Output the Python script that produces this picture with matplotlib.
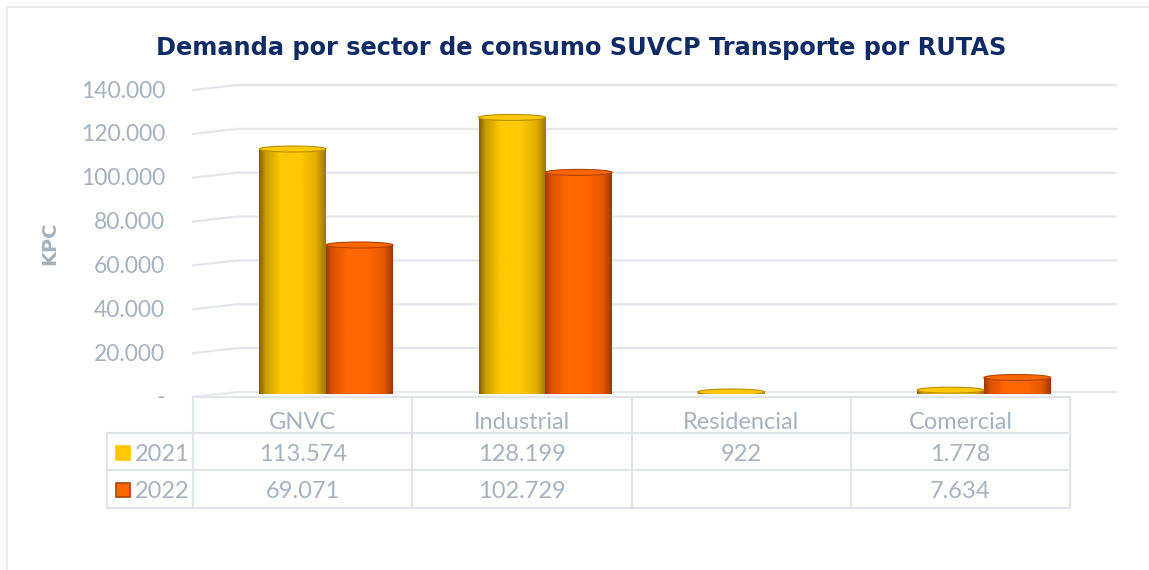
import numpy as np
import matplotlib
matplotlib.use("Agg")
import matplotlib.pyplot as plt
import matplotlib.transforms as mtransforms
from matplotlib.colors import LinearSegmentedColormap
from matplotlib.patches import Ellipse, Rectangle

# ---- data -------------------------------------------------------------
categories = ["GNVC", "Industrial", "Residencial", "Comercial"]
series_names = ["2021", "2022"]
demand_2021 = [113574, 128199, 922, 1778]
demand_2022 = [69071, 102729, np.nan, 7634]
y_ticks = [0, 20000, 40000, 60000, 80000, 100000, 120000, 140000]

title = "Demanda por sector de consumo SUVCP Transporte por RUTAS"
y_label = "KPC"

# ---- style ------------------------------------------------------------
W, H = 1149, 570
TEXT_GREY = "#a7b2bf"
GRID_GREY = "#e4e7eb"
TABLE_GREY = "#e1e5ea"
NAVY = "#0f2b66"
FONT = "Lato"
FS = 16.5

bar_colors = ["#ffc800", "#ff6600"]
bar_edges = ["#b88f00", "#b04300"]
cyl_maps = [
    LinearSegmentedColormap.from_list("cyl_yellow", [
        (0.0, "#7d6000"), (0.10, "#c99d00"), (0.32, "#ffc800"),
        (0.62, "#ffc800"), (0.86, "#e2ad00"), (1.0, "#9a7600")]),
    LinearSegmentedColormap.from_list("cyl_orange", [
        (0.0, "#9e3800"), (0.10, "#df5300"), (0.32, "#ff6600"),
        (0.62, "#ff6600"), (0.86, "#e85a00"), (1.0, "#9c3600")]),
]


def fmt(v):
    if v is None or np.isnan(v):
        return ""
    if v == 0:
        return "-"
    return f"{int(v):,}".replace(",", ".")


fig = plt.figure(figsize=(W / 100, H / 100), dpi=100)

# pixel-space overlay for title, frame and data table
bg = fig.add_axes([0, 0, 1, 1])
bg.set_xlim(0, W)
bg.set_ylim(H, 0)
bg.axis("off")

bg.plot([7, W], [7, 7], color="#e8e8e8", lw=1.2)
bg.plot([7, 7], [7, H], color="#e8e8e8", lw=1.2)

bg.text(581, 55, title, ha="center", va="baseline", fontsize=17.3,
        fontweight="bold", color=NAVY, family="DejaVu Sans")
bg.text(50, 243, y_label, ha="center", va="center", rotation=90,
        fontsize=14, fontweight="bold", color=TEXT_GREY, family="DejaVu Sans")

# table geometry (pixels); the bar area sits a little to the right (depth)
table_left, row_label_left = 193, 107
col_w = 219.25
depth_dx, depth_dy = 23.5, 5
base_y, top_y = 392, 85
bar_base_y, bar_full_h = 394, 302
row_edges = [397, 433, 470, 508]

n = len(categories)
table_right = table_left + n * col_w
# horizontal rules
bg.plot([table_left, table_right], [row_edges[0]] * 2, color=TABLE_GREY, lw=1.6)
for yy in row_edges[1:]:
    bg.plot([row_label_left, table_right], [yy, yy], color=TABLE_GREY, lw=1.6)
# vertical rules
bg.plot([row_label_left] * 2, [row_edges[1], row_edges[3]], color=TABLE_GREY, lw=1.6)
for i in range(n + 1):
    xx = table_left + i * col_w
    bg.plot([xx, xx], [row_edges[0], row_edges[3]], color=TABLE_GREY, lw=1.6)

for i, cat in enumerate(categories):
    cx = table_left + (i + 0.5) * col_w
    bg.text(cx, 429, cat, ha="center", va="baseline", fontsize=17,
            color=TEXT_GREY, family=FONT)
    bg.text(cx, 461, fmt(demand_2021[i]), ha="center", va="baseline",
            fontsize=17, color=TEXT_GREY, family=FONT)
    bg.text(cx, 498, fmt(demand_2022[i]), ha="center", va="baseline",
            fontsize=17, color=TEXT_GREY, family=FONT)

for k, (name, yb) in enumerate(zip(series_names, [461, 498])):
    bg.add_patch(Rectangle((116, yb - 15), 14, 14, facecolor=bar_colors[k],
                           edgecolor=bar_edges[k] if k else bar_colors[k], lw=1.2))
    bg.text(135, yb, name, ha="left", va="baseline", fontsize=17,
            color=TEXT_GREY, family=FONT)

# ---- gridlines (back wall + sloped side wall) -------------------------
ax_left = table_left + depth_dx
ax_w = n * col_w
gax = fig.add_axes([ax_left / W, (H - base_y) / H, ax_w / W, (base_y - top_y) / H])
gax.set_xlim(-0.5, n - 0.5)
gax.set_ylim(0, y_ticks[-1])
gax.patch.set_alpha(0)
gax.axis("off")

px_to_data = y_ticks[-1] / (base_y - top_y)
front = mtransforms.blended_transform_factory(gax.transAxes, gax.transData)
x_start = (table_left - ax_left) / ax_w
x_bend = (table_left + 44 - ax_left) / ax_w
x_end = (1116 - ax_left) / ax_w
label_tf = mtransforms.offset_copy(front, fig=fig, x=0, y=-6, units="dots")

for t in y_ticks:
    gax.plot([x_start, x_bend, x_end], [t - depth_dy * px_to_data, t, t],
             transform=front, color=GRID_GREY, lw=1.6, clip_on=False, zorder=0)
    gax.text((165 - ax_left) / ax_w, t, fmt(t), transform=label_tf,
             ha="right", va="center", fontsize=FS, color=TEXT_GREY, family=FONT)

# ---- cylinder bars ----------------------------------------------------
ax = fig.add_axes([ax_left / W, (H - bar_base_y) / H, ax_w / W, bar_full_h / H])
ax.patch.set_alpha(0)
ax.axis("off")

bar_w = 0.305
x = np.arange(n)
grad = np.linspace(0, 1, 256).reshape(1, -1)
cap_h = 6 * y_ticks[-1] / bar_full_h

for k, vals in enumerate([demand_2021, demand_2022]):
    heights = np.nan_to_num(np.array(vals, dtype=float))
    offset = (k - 0.5) * bar_w
    bars = ax.bar(x + offset, heights, width=bar_w, color=bar_colors[k],
                  linewidth=0, zorder=2)
    for rect, h in zip(bars, heights):
        if h <= 0:
            continue
        x0, w = rect.get_x(), rect.get_width()
        im = ax.imshow(grad, cmap=cyl_maps[k], aspect="auto",
                       extent=(x0, x0 + w, 0, h), zorder=3)
        im.set_clip_path(rect)
        ax.add_patch(Ellipse((x0 + w / 2, h), w, cap_h,
                             facecolor=bar_colors[k], edgecolor=bar_edges[k],
                             lw=0.8, zorder=4))

ax.set_xlim(-0.5, n - 0.5)
ax.set_ylim(0, y_ticks[-1])

fig.savefig("out.png", dpi=100)
